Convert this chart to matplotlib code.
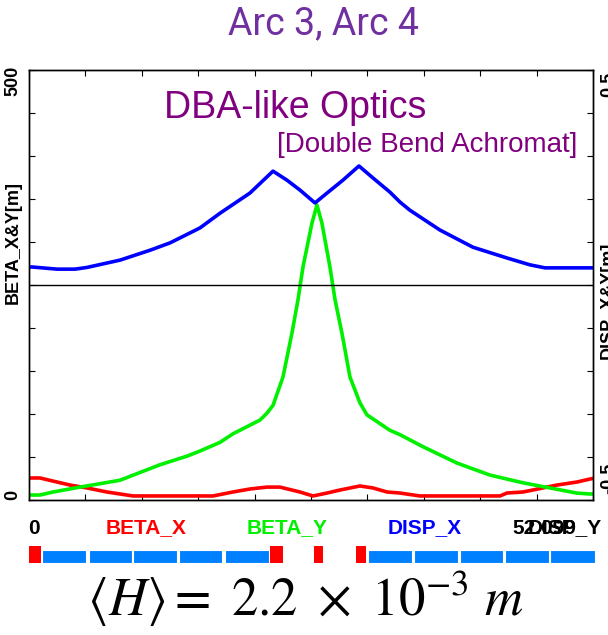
import matplotlib.pyplot as plt
from matplotlib.ticker import MultipleLocator

plt.rcParams['mathtext.fontset'] = 'stix'

s_max = 52.099

# BETA_X [m] (red)
bx_s = [0, 1.02, 2.22, 3.79, 5.36, 7.20, 9.61, 17.00, 18.84, 20.41, 21.98, 23.18,
        25.03, 26.23, 27.53, 28.73, 30.57, 31.78, 33.07, 34.27, 36.12, 43.51,
        44.15, 45.63, 47.48, 48.77, 50.62, 51.82, 52.10]
beta_x = [25.6, 25.6, 22, 17.4, 14, 9.3, 4.7, 4.7, 9.3, 12.8, 15, 15,
          9.3, 4.7, 8.1, 11.6, 16.3, 14, 9.3, 8.1, 4.7, 4.7,
          8.1, 9.3, 14, 17.4, 20.9, 24.4, 25]

# BETA_Y [m] (green)
by_s = [0, 1.02, 2.22, 4.71, 8.41, 12.10, 14.59, 15.80, 17.64, 18.84, 21.34, 21.98,
        22.54, 23.46, 24.29, 24.85, 25.31, 26.14, 26.60, 27.06, 27.80, 28.27,
        28.91, 29.65, 30.57, 31.22, 33.35, 34.27, 36.39, 39.53, 42.58, 45.63,
        48.13, 50.62, 51.82, 52.10]
beta_y = [5.8, 5.8, 9.3, 15, 23, 41, 51, 57, 67, 77, 93, 101,
          110, 143, 194, 233, 271, 322, 343, 322, 271, 233,
          194, 143, 113, 99, 81, 76, 62, 43, 29, 20,
          14, 8, 7, 7]

# DISP_X [m] (blue)
dx_s = [0, 0.28, 2.59, 4.25, 5.36, 8.41, 11.18, 13.02, 15.80, 17.64, 20.41, 22.54,
        23.83, 25.03, 26.42, 27.53, 29.00, 30.48, 31.78, 33.35, 34.27, 35.19,
        37.96, 41.01, 44.15, 46.28, 47.66, 51.82, 52.10]
disp_x = [0.042, 0.042, 0.037, 0.037, 0.041, 0.058, 0.081, 0.098, 0.133, 0.167, 0.214, 0.265,
          0.244, 0.221, 0.191, 0.214, 0.244, 0.277, 0.249, 0.216, 0.193, 0.174,
          0.128, 0.088, 0.063, 0.047, 0.040, 0.040, 0.040]

# lattice elements (start, length) [m]
bends = [(0.0, 1.1), (22.3, 1.2), (26.3, 0.9), (30.2, 0.9)]
quads = [(1.2, 4.1), (5.5, 4.0), (9.6, 4.1), (13.9, 3.9), (18.1, 4.1),
         (31.3, 4.1), (35.6, 4.0), (39.8, 4.0), (44.0, 4.0), (48.1, 4.2)]

fig = plt.figure(figsize=(6.08, 6.35), dpi=100)
ax = fig.add_axes([0.0477, 0.2126, 0.9276, 0.677])
ax2 = ax.twinx()

ax.plot(bx_s, beta_x, color='#ff0000', lw=2.6)
ax.plot(by_s, beta_y, color='#00f000', lw=2.6)
ax2.axhline(0, color='black', lw=1)
ax2.plot(dx_s, disp_x, color='#0000ff', lw=2.6)

ax.set_xlim(0, s_max)
ax.set_ylim(0, 500)
ax2.set_ylim(-0.5, 0.5)

ax.xaxis.set_major_locator(MultipleLocator(s_max / 10))
ax.yaxis.set_major_locator(MultipleLocator(50))
ax2.yaxis.set_major_locator(MultipleLocator(0.1))
ax.tick_params(direction='in', length=4, width=0.8, top=True,
               labelbottom=False, labelleft=False)
ax2.tick_params(direction='in', length=4, width=0.8, labelright=False)
for a in (ax, ax2):
    for sp in a.spines.values():
        sp.set_linewidth(1)

bold = dict(fontweight='bold', family='Liberation Sans')
ax.text(-0.013, 1.01, '500', transform=ax.transAxes, rotation=90, ha='right',
        va='top', fontsize=13, **bold)
ax.text(-0.013, 0.0, '0', transform=ax.transAxes, rotation=90, ha='right',
        va='bottom', fontsize=13, **bold)
ax.text(-0.013, 0.6, 'BETA_X&Y[m]', transform=ax.transAxes, rotation=90,
        ha='right', va='center', fontsize=13, **bold)
fig.text(0.987, 1 - 84 / 635, '0.5', rotation=90, ha='left', va='center', fontsize=13, **bold)
fig.text(0.987, 1 - 478 / 635, '-0.5', rotation=90, ha='left', va='center', fontsize=13, **bold)
fig.text(0.987, 1 - 300 / 635, 'DISP_X&Y[m]', rotation=90, ha='left', va='center', fontsize=13, **bold)

# labels under the plot
ty = 1 - 528 / 635
fig.text(34 / 608, ty, '0', ha='center', va='center', fontsize=15, **bold)
fig.text(146 / 608, ty, 'BETA_X', color='#ff0000', ha='center', va='center', fontsize=15, **bold)
fig.text(287 / 608, ty, 'BETA_Y', color='#00f000', ha='center', va='center', fontsize=15, **bold)
fig.text(425 / 608, ty, 'DISP_X', color='#0000ff', ha='center', va='center', fontsize=15, **bold)
fig.text(512 / 608, ty, '52.099', ha='left', va='center', fontsize=15, **bold)
fig.text(602 / 608, ty, 'DISP_Y', ha='right', va='center', fontsize=15, **bold)

# lattice bar
axl = fig.add_axes([0.0477, 1 - 563 / 635, 0.9276, 17 / 635])
axl.set_xlim(0, s_max)
axl.set_ylim(0, 1)
axl.axis('off')
axl.bar([q[0] for q in quads], 0.76, width=[q[1] for q in quads], align='edge',
        color='#0080ff', edgecolor='white', linewidth=0.8, clip_on=False)
axl.bar([b[0] for b in bends], 1.0, width=[b[1] for b in bends], align='edge',
        color='#ff0000', linewidth=0, clip_on=False)

# titles
fig.text(324 / 608, 1 - 24 / 635, 'Arc 3, Arc 4', color='#7030a0', ha='center',
         va='center', fontsize=27, family='Roboto')
fig.text(295 / 608, 1 - 108 / 635, 'DBA-like Optics', color='#800080', ha='center',
         va='center', fontsize=27, family='Liberation Sans')
fig.text(577 / 608, 1 - 145 / 635, '[Double Bend Achromat]', color='#800080', ha='right',
         va='center', fontsize=20, family='Liberation Sans')
fig.text(305 / 608, 1 - 598 / 635, r'$\langle H\rangle =\ 2.2\ \times\ 10^{-3}\ m$',
         ha='center', va='center', fontsize=38)

fig.savefig('out.png', dpi=100)
